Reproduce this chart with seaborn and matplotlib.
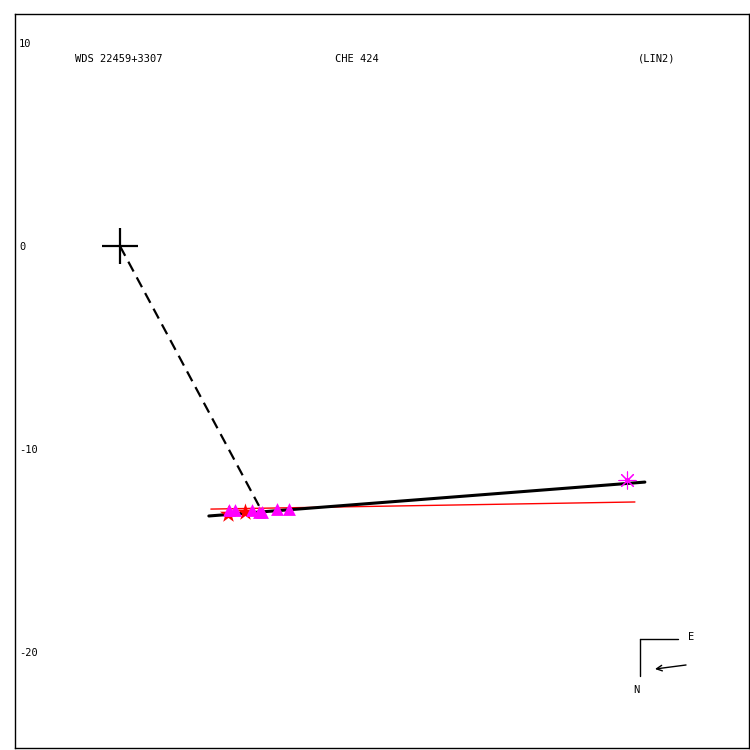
import matplotlib
matplotlib.use('Agg')
from matplotlib import pyplot as plt
import seaborn as sns

# values (arcsec offsets, x to the right, y up)
origin_x = [0.0]
origin_y = [0.0]

dash_x = [0.0, 6.85]
dash_y = [0.0, -12.8]

fit_x = [4.38, 25.86]
fit_y = [-13.30, -11.63]

red_x = [4.48, 25.37]
red_y = [-12.96, -12.61]

tri_x = [5.37, 5.67, 6.50, 6.85, 7.00, 7.73, 8.33]
tri_y = [-13.0, -13.0, -13.0, -13.1, -13.1, -12.96, -12.96]

star_x = [5.32, 6.16]
star_y = [-13.2, -13.1]

ast_x = [24.98]
ast_y = [-11.55]

ytick_vals = [10, 0, -10, -20]
ytick_labels = ["10", "0", "-10", "-20"]

header = ["WDS 22459+3307", "CHE 424", "(LIN2)"]

sns.set_style("white")
plt.rcParams['font.family'] = ['DejaVu Sans Mono', 'DejaVu Sans']
plt.rcParams['text.color'] = 'black'
plt.rcParams['ytick.color'] = 'black'
plt.rcParams['ytick.labelcolor'] = 'black'

fig = plt.figure(figsize=(7.5, 7.5), dpi=100)
ax = fig.add_axes([15 / 750, 2 / 750, 734 / 750, 734 / 750])

sns.lineplot(x=dash_x, y=dash_y, sort=False, color="black", lw=1.6,
             linestyle=(0, (5, 3)), ax=ax)
sns.lineplot(x=red_x, y=red_y, sort=False, color="red", lw=1.0, ax=ax)
sns.lineplot(x=fit_x, y=fit_y, sort=False, color="black", lw=2.2, ax=ax)

sns.scatterplot(x=tri_x, y=tri_y, marker="^", s=85, color="magenta",
                edgecolor="magenta", linewidth=0, ax=ax, zorder=3)
sns.scatterplot(x=star_x, y=star_y, marker="*", s=170, color="red",
                edgecolor="red", linewidth=0, ax=ax, zorder=2.5)
sns.scatterplot(x=ast_x, y=ast_y, marker=(8, 2, 0), s=150, color="magenta",
                linewidth=0.8, ax=ax, zorder=3)
sns.scatterplot(x=ast_x, y=ast_y, marker="o", s=14, color="magenta",
                linewidth=0, ax=ax, zorder=3)
sns.scatterplot(x=origin_x, y=origin_y, marker="+", s=700, color="black",
                linewidth=1.6, ax=ax, zorder=4)

ax.set_xlim(-5.17, 30.99)
ax.set_ylim(-24.73, 11.43)
ax.set_xticks([])
ax.set_yticks(ytick_vals)
ax.set_yticklabels(ytick_labels, fontsize=7.5)
ax.tick_params(axis='y', length=0, pad=-3)
for lab in ax.get_yticklabels():
    lab.set_horizontalalignment('left')
for sp in ax.spines.values():
    sp.set_color("black")
    sp.set_linewidth(1.0)

# header line
ax.text(0.082, 0.939, header[0], transform=ax.transAxes, fontsize=7.5,
        ha='left', va='center')
ax.text(0.436, 0.939, header[1], transform=ax.transAxes, fontsize=7.5,
        ha='left', va='center')
ax.text(0.849, 0.939, header[2], transform=ax.transAxes, fontsize=7.5,
        ha='left', va='center')

# compass
ax.plot([0.8515, 0.9033], [0.1485, 0.1485], color="black", lw=1.0,
        transform=ax.transAxes)
ax.plot([0.8515, 0.8515], [0.1485, 0.0981], color="black", lw=1.0,
        transform=ax.transAxes)
ax.text(0.917, 0.151, "E", transform=ax.transAxes, fontsize=7.5,
        ha='left', va='center')
ax.text(0.847, 0.079, "N", transform=ax.transAxes, fontsize=7.5,
        ha='center', va='center')
ax.annotate("", xy=(0.8719, 0.1076), xytext=(0.9142, 0.1131),
            xycoords=ax.transAxes, textcoords=ax.transAxes,
            arrowprops=dict(arrowstyle="->", color="black", lw=1.0,
                            shrinkA=0, shrinkB=0))

fig.savefig("out.png", dpi=100)
